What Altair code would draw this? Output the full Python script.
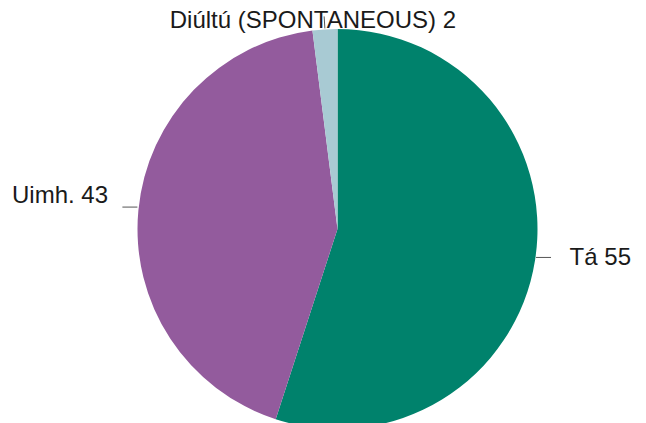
import altair as alt
import pandas as pd

labels = ["Tá", "Uimh.", "Diúltú (SPONTANEOUS)"]
values = [55, 43, 2]
order = [1, 2, 3]
colors = ["#00826C", "#935B9D", "#A8CAD3"]

df = pd.DataFrame({"label": labels, "value": values, "ord": order})

CX, CY, R = 329.5, 221, 200
FONT = "Liberation Sans"

base = alt.Chart(df)

pie = base.mark_arc(outerRadius=R).encode(
    theta=alt.Theta("value:Q", stack=True),
    order=alt.Order("ord:Q", sort="ascending"),
    color=alt.Color("label:N", scale=alt.Scale(domain=labels, range=colors), legend=None),
    x=alt.value(CX),
    y=alt.value(CY),
)

geo = base.transform_joinaggregate(total="sum(value)").transform_window(
    cum="sum(value)", sort=[alt.SortField("ord", order="ascending")], frame=[None, 0]
).transform_calculate(
    mid="2*PI*(datum.cum - datum.value/2)/datum.total",
    txt="datum.label + ' ' + datum.value",
)

# leader lines: horizontal for side labels, radial for the top label
rules = geo.transform_calculate(
    hz="abs(sin(datum.mid)) > 0.7",
    x1=f"{CX} + 201*sin(datum.mid)",
    y1=f"{CY} - 201*cos(datum.mid) - (abs(sin(datum.mid)) > 0.7 ? 3 : 0)",
).transform_calculate(
    x2="datum.hz ? datum.x1 + 15*(sin(datum.mid) > 0 ? 1 : -1) : " + f"{CX} + 213*sin(datum.mid)",
    y2="datum.hz ? datum.y1 : " + f"{CY} - 213*cos(datum.mid)",
).mark_rule(color="#555555", strokeWidth=1).encode(
    x=alt.X("x1:Q", scale=None),
    y=alt.Y("y1:Q", scale=None),
    x2="x2:Q",
    y2="y2:Q",
)


def label_layer(name, rad, align, baseline, dx, dy):
    return geo.transform_filter(alt.datum.label == name).transform_calculate(
        tx=f"{CX} + {rad}*sin(datum.mid)",
        ty=f"{CY} - {rad}*cos(datum.mid)",
    ).mark_text(
        font=FONT, fontSize=24, color="#1a1a1a", align=align, baseline=baseline, dx=dx, dy=dy
    ).encode(
        x=alt.X("tx:Q", scale=None),
        y=alt.Y("ty:Q", scale=None),
        text="txt:N",
    )


t1 = label_layer("Tá", 235, "left", "middle", 0, -8)
t2 = label_layer("Uimh.", 230.5, "right", "alphabetic", 0, -4)
t3 = label_layer("Diúltú (SPONTANEOUS)", 201.4, "center", "alphabetic", -12, 0)

chart = alt.layer(pie, rules, t1, t2, t3).properties(
    width=630, height=415, padding=0, autosize="none"
).configure_view(stroke=None)

chart.save("out.html", embed_options={"renderer": "svg", "actions": False})
